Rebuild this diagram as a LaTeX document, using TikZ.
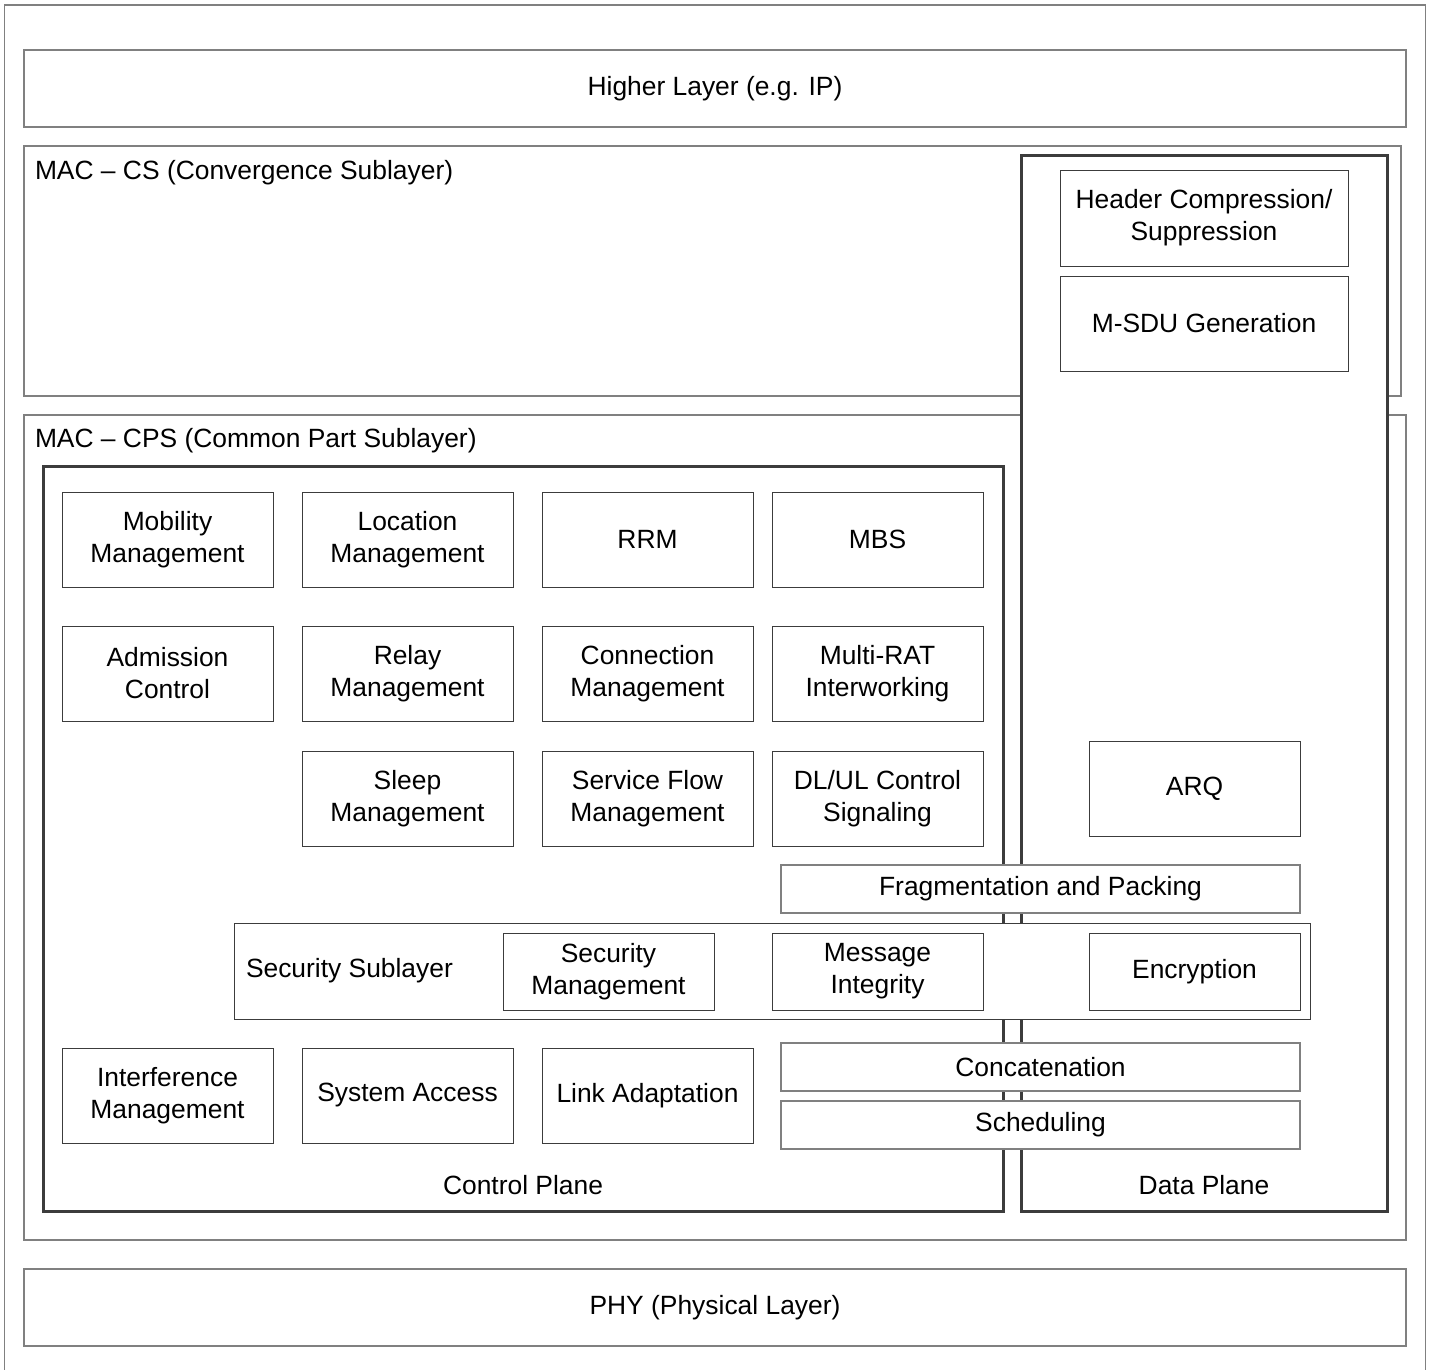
\documentclass[tikz,border=0pt]{standalone}
\usepackage{fontspec}
\setmainfont{Liberation Sans}
\definecolor{lgray}{HTML}{808080}
\definecolor{dgray}{HTML}{3C3C3C}
\begin{document}
\begin{tikzpicture}[x=1pt,y=-1pt,
  every node/.style={font=\fontsize{26.4}{32}\selectfont, text=black, align=center, inner sep=0pt, outer sep=0pt},
  layerbox/.style={draw=lgray, line width=1.3pt, fill=white, anchor=north west},
  fbox/.style={draw=dgray, line width=1pt, fill=white, anchor=north west, minimum width=211pt, minimum height=95pt},
  wbox/.style={draw=lgray, line width=1.3pt, fill=white, anchor=north west, minimum width=519pt, minimum height=48pt},
  plane/.style={draw=dgray, line width=3pt, anchor=north west},
  lbl/.style={anchor=west}
]
\useasboundingbox (0,0) rectangle (1434,1369);
\fill[white] (0,0) rectangle (1434,1369);
% outer frame
\draw[lgray, line width=1.3pt] (4.5,1372) -- (4.5,5) -- (1425.5,5) -- (1425.5,1372);

% layers
\node[layerbox, minimum width=1382pt, minimum height=77pt] (higher) at (24,50) {};
\node at (715,89) (highertxt) {Higher Layer (e.g. IP)};
\node[layerbox, minimum width=1377pt, minimum height=250pt] (cs) at (24,146) {};
\node[lbl] (cstxt) at (35,173) {MAC -- CS (Convergence Sublayer)};
\node[layerbox, minimum width=1382pt, minimum height=825pt] (cps) at (24,415) {};
\node[lbl] (cpstxt) at (35,441) {MAC -- CPS (Common Part Sublayer)};
\node[layerbox, minimum width=1382pt, minimum height=77pt] (phy) at (24,1269) {};
\node at (715,1308) (phytxt) {PHY (Physical Layer)};

% planes
\node[plane, minimum width=960pt, minimum height=745pt] (cp) at (43,466) {};
\node (cptxt) at (523,1185) {Control Plane};
\node[plane, fill=white, minimum width=366pt, minimum height=1056pt] (dp) at (1021,155) {};
\node (dptxt) at (1204,1185) {Data Plane};

% data plane functions
\node[fbox, minimum width=288pt, minimum height=96pt] (hc) at (1060,170) {Header Compression/\\Suppression};
\node[fbox, minimum width=288pt, minimum height=95pt] (msdu) at (1060,276) {M-SDU Generation};
\node[fbox] (arq) at (1089,741) {ARQ};

% control plane functions
\node[fbox] (mob) at (62,492) {Mobility\\Management};
\node[fbox] (loc) at (302,492) {Location\\Management};
\node[fbox] (rrm) at (542,492) {RRM};
\node[fbox] (mbs) at (772,492) {MBS};
\node[fbox] (adm) at (62,626) {Admission\\Control};
\node[fbox] (rel) at (302,626) {Relay\\Management};
\node[fbox] (con) at (542,626) {Connection\\Management};
\node[fbox] (rat) at (772,626) {Multi-RAT\\Interworking};
\node[fbox] (slp) at (302,751) {Sleep\\Management};
\node[fbox] (sfm) at (542,751) {Service Flow\\Management};
\node[fbox] (dlul) at (772,751) {DL/UL Control\\Signaling};

% shared
\node[wbox] (frag) at (781,865) {Fragmentation and Packing};
\node[draw=dgray, line width=1pt, fill=white, anchor=north west, minimum width=1076pt, minimum height=96pt] (sec) at (234,923) {};
\node[lbl] (sectxt) at (246,971) {Security Sublayer};
\node[fbox, minimum height=77pt] (secm) at (503,933) {Security\\Management};
\node[fbox, minimum height=77pt] (msgi) at (772,933) {Message\\Integrity};
\node[fbox, minimum height=77pt] (enc) at (1089,933) {Encryption};

\node[fbox] (intf) at (62,1048) {Interference\\Management};
\node[fbox] (sysa) at (302,1048) {System Access};
\node[fbox] (lnka) at (542,1048) {Link Adaptation};
\node[wbox] (conc) at (781,1043) {Concatenation};
\node[wbox] (sched) at (781,1101) {Scheduling};
\end{tikzpicture}
\end{document}
